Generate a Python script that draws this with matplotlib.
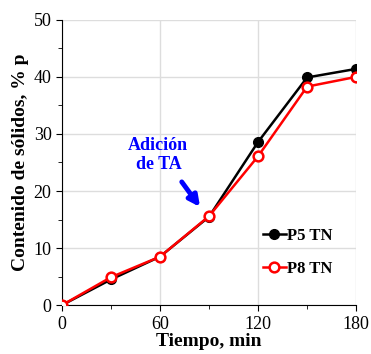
import matplotlib
matplotlib.use("Agg")
import matplotlib.pyplot as plt
from matplotlib.ticker import MultipleLocator

tiempo = [0, 30, 60, 90, 120, 150, 180]
p5 = [0, 4.5, 8.5, 15.5, 28.6, 39.9, 41.4]
p8 = [0, 4.9, 8.5, 15.6, 26.1, 38.3, 40.0]

plt.rcParams['font.family'] = ['Liberation Serif', 'DejaVu Serif']

fig = plt.figure(figsize=(3.71, 3.54), dpi=100)
ax = fig.add_axes([0.167, 0.138, 0.793, 0.806])

ax.plot(tiempo, p5, '-o', color='black', lw=1.8, ms=7, label='P5 TN', zorder=3)
ax.plot(tiempo, p8, '-o', color='red', lw=1.8, ms=7, mfc='white', mew=1.8,
        label='P8 TN', zorder=4)

ax.set_xlim(0, 180)
ax.set_ylim(0, 50)
ax.xaxis.set_major_locator(MultipleLocator(60))
ax.xaxis.set_minor_locator(MultipleLocator(30))
ax.yaxis.set_major_locator(MultipleLocator(10))
ax.yaxis.set_minor_locator(MultipleLocator(5))
ax.grid(True, which='major', color='#dddddd', lw=1)
ax.set_axisbelow(True)
ax.spines['top'].set_visible(False)
ax.spines['right'].set_visible(False)
ax.tick_params(which='both', direction='out', labelsize=13, length=4)
ax.tick_params(which='minor', length=3)

ax.set_xlabel('Tiempo, min', fontsize=14, fontweight='bold', labelpad=0)
ax.set_ylabel('Contenido de sólidos, % p', fontsize=14, fontweight='bold',
              labelpad=3)

ax.text(59, 26.3, 'Adición\nde TA', ha='center', va='center', color='blue',
        fontsize=13, fontweight='bold', linespacing=1.15)
ax.annotate('', xy=(84.5, 17.2), xytext=(73.3, 21.6),
            arrowprops=dict(arrowstyle='-|>', color='blue', lw=3.5,
                            mutation_scale=16, shrinkA=0, shrinkB=0))

leg = ax.legend(loc='lower left', bbox_to_anchor=(0.684, 0.1), frameon=False,
                prop={'weight': 'bold', 'size': 12}, borderpad=0,
                borderaxespad=0, handlelength=1.35, handletextpad=0.1,
                labelspacing=1.0)

fig.savefig('out.png', dpi=100)
